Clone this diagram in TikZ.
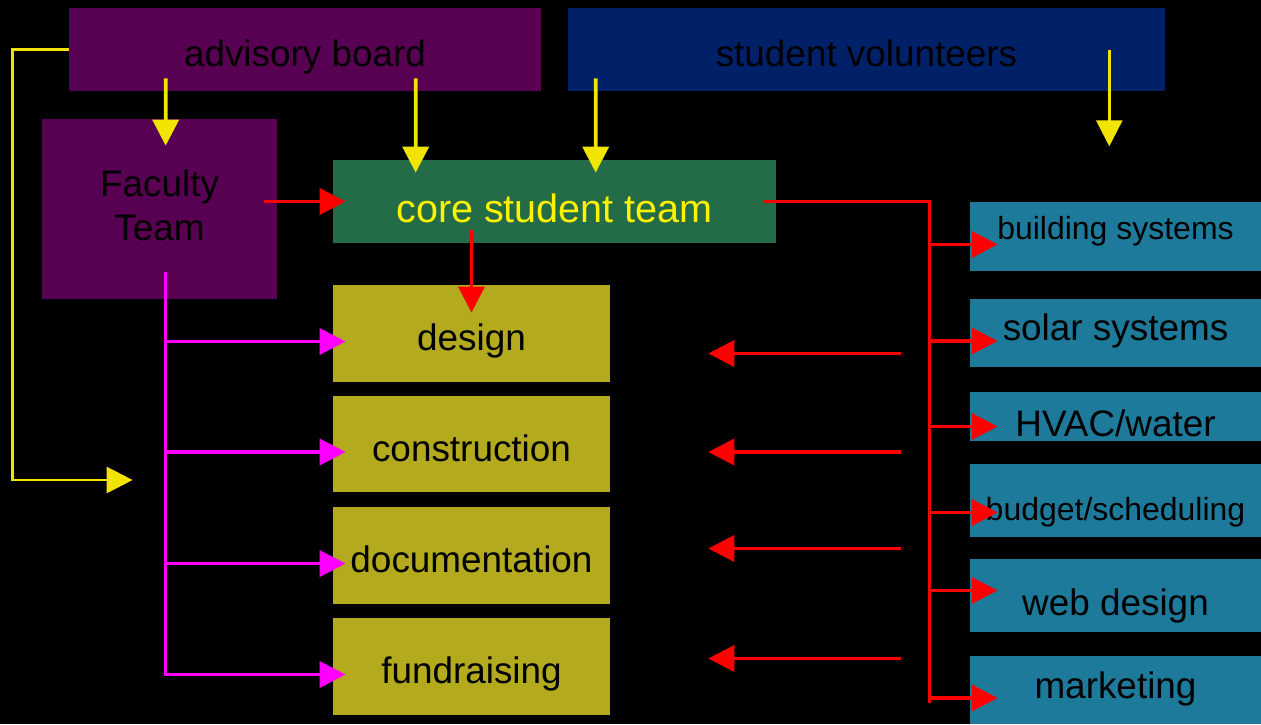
\documentclass[tikz,border=0pt]{standalone}
\usepackage{fontspec}
\setmainfont{Liberation Sans}
\usetikzlibrary{arrows.meta,calc}

\definecolor{boardpurple}{RGB}{88,0,82}
\definecolor{volnavy}{RGB}{0,33,104}
\definecolor{coregreen}{RGB}{36,108,72}
\definecolor{taskolive}{RGB}{179,170,30}
\definecolor{subteal}{RGB}{30,122,154}
\definecolor{linkyellow}{RGB}{240,228,0}
\definecolor{linkmagenta}{RGB}{255,0,255}

\begin{document}
\begin{tikzpicture}[x=0.02cm, y=-0.02cm,
  box/.style={inner sep=0pt, font=\fontsize{21}{25}\selectfont, align=center},
  sink/.style={text height=#1, text depth=0pt},
  board/.style={box, fill=boardpurple},
  task/.style={box, fill=taskolive, minimum width=5.54cm},
  subteam/.style={box, fill=subteal, minimum width=5.82cm},
  tip/.style={-{Triangle[length=0.52cm, width=0.52cm]}},
  yellowlink/.style={tip, draw=linkyellow, line width=2.1pt},
  redlink/.style={tip, draw=red, line width=2pt},
  facultylink/.style={tip, draw=linkmagenta, line width=1.9pt}]
\useasboundingbox (0,0) rectangle (1261,724);
\fill[black] (0,0) rectangle (1261,724);

% Top row and the two teams
\node[board, sink=0.68cm, minimum width=9.44cm, minimum height=1.66cm] (adv) at (305,49.5) {advisory board};
\node[box, sink=0.68cm, fill=volnavy, minimum width=11.94cm, minimum height=1.66cm] (vol) at (866.5,49.5) {student volunteers};
\node[board, text depth=0.16cm, minimum width=4.7cm, minimum height=3.6cm] (fac) at (159.5,209) {Faculty\\Team};
\node[box, sink=0.82cm, fill=coregreen, text=yellow, font=\fontsize{22.5}{26}\selectfont,
  minimum width=8.86cm, minimum height=1.66cm] (core) at (554.5,201.5) {core student team};

% Task boxes
\node[task, sink=0.66cm, minimum height=1.94cm] (design) at (471.5,333.5) {design};
\node[task, sink=0.71cm, minimum height=1.92cm] (constr) at (471.5,444) {construction};
\node[task, sink=0.69cm, minimum height=1.94cm] (docu) at (471.5,555.5) {documentation};
\node[task, sink=0.66cm, minimum height=1.94cm] (fund) at (471.5,666.5) {fundraising};

% Sub-teams
\node[subteam, sink=0.12cm, minimum height=1.38cm, font=\fontsize{18.2}{22}\selectfont] (bsys) at (1115.5,236.5) {building systems};
\node[subteam, sink=0.28cm, minimum height=1.36cm] (solar) at (1115.5,333) {solar systems};
\node[subteam, sink=0.8cm, minimum height=0.98cm] (hvac) at (1115.5,416.5) {HVAC/water};
\node[subteam, sink=0.78cm, minimum height=1.46cm, font=\fontsize{18.2}{22}\selectfont] (budget) at (1115.5,500.5) {budget/scheduling};
\node[subteam, sink=0.78cm, minimum height=1.46cm] (web) at (1115.5,595.5) {web design};
\node[subteam, sink=0.33cm, minimum height=1.36cm] (market) at (1115.5,690) {marketing};

% Yellow feeds from the top row
\draw[yellowlink] ([shift={(97,-13)}]adv.south west) -- ([shift={(124,27)}]fac.north west);
\draw[yellowlink] ([shift={(347,-13)}]adv.south west) -- ([shift={(83,13)}]core.north west);
\draw[yellowlink] ([shift={(28,-13)}]vol.south west) -- ([shift={(263,13)}]core.north west);
\draw[yellowlink, line width=1.5pt] ([shift={(-56,0)}]vol.east) -- ([shift={(-56,55)}]vol.south east);
\coordinate (advtip) at ([shift={(-200,36)}]constr.west);
\draw[yellowlink, line width=1.5pt] (adv.west) -- ++(-56,0) |- (advtip);

% Faculty and core team
\draw[redlink] ($(fac.east |- core.west)+(-13,0)$) -- ($(core.west)+(13,0)$);
\draw[redlink] ($(design.north |- core.south)+(0,-13)$) -- ($(design.north)+(0,28)$);

% Core team out to the sub-teams
\coordinate (split) at ($(bsys.west)+(-40,0)$);
\draw[redlink, -] ($(core.east)+(-13,0)$) -| ($(split |- market.west)+(0,13)$);
\foreach \team/\dy in {bsys/8, solar/8, hvac/10, budget/12, web/-5, market/8}
  \draw[redlink] ($(split |- \team.west)+(0,\dy)$) -- ($(\team.west)+(28,\dy)$);

% Sub-teams back to the task boxes
\foreach \task/\dy in {design/20, constr/8, docu/-7, fund/-8}
  \draw[redlink] ($(\task.east)+(291,\dy)$) -- ($(\task.east)+(98,\dy)$);

% Faculty oversight of the task boxes
\coordinate (facbase) at ([shift={(124,-27)}]fac.south west);
\draw[facultylink] (facbase) |- ($(fund.west)+(13,8)$);
\foreach \task in {design, constr, docu}
  \draw[facultylink] ($(facbase |- \task.west)+(0,8)$) -- ($(\task.west)+(13,8)$);
\end{tikzpicture}
\end{document}
